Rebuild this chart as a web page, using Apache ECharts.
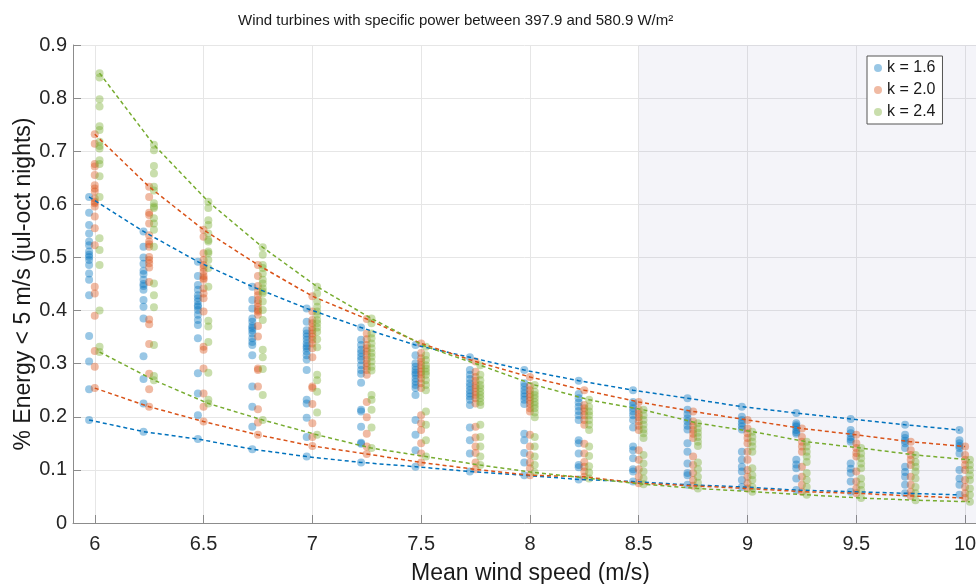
<!DOCTYPE html>
<html>
<head>
<meta charset="utf-8">
<title>Energy below 5 m/s vs mean wind speed</title>
<script src="https://cdn.jsdelivr.net/npm/echarts@6.0.0/dist/echarts.min.js"></script>
<style>
  html, body { margin: 0; padding: 0; background: #fff; }
  #main { width: 976px; height: 584px; }
</style>
</head>
<body>
<div id="main"></div>
<script>
// mean wind speed columns (m/s)
var speeds = [6, 6.25, 6.5, 6.75, 7, 7.25, 7.5, 7.75, 8, 8.25, 8.5, 8.75, 9, 9.25, 9.5, 9.75, 10];
var kNames = ['k = 1.6', 'k = 2.0', 'k = 2.4'];

// share of energy below 5 m/s, one list of turbines per wind speed
var energyK16 = [
  [0.614,0.584,0.561,0.545,0.530,0.523,0.511,0.505,0.501,0.495,0.486,0.470,0.458,0.429,0.352,0.304,0.252,0.194],
  [0.549,0.520,0.500,0.488,0.475,0.469,0.458,0.450,0.446,0.439,0.420,0.407,0.385,0.314,0.271,0.225,0.172],
  [0.492,0.465,0.448,0.439,0.429,0.423,0.417,0.410,0.407,0.401,0.392,0.382,0.373,0.348,0.282,0.244,0.203,0.158],
  [0.445,0.420,0.404,0.385,0.379,0.371,0.367,0.363,0.357,0.348,0.341,0.335,0.316,0.257,0.219,0.181,0.139],
  [0.404,0.379,0.363,0.357,0.351,0.345,0.338,0.333,0.329,0.323,0.316,0.308,0.288,0.232,0.225,0.198,0.162,0.125],
  [0.368,0.345,0.335,0.326,0.320,0.313,0.307,0.297,0.288,0.281,0.264,0.213,0.210,0.181,0.151,0.149,0.114],
  [0.335,0.316,0.301,0.294,0.288,0.283,0.279,0.272,0.266,0.260,0.254,0.241,0.194,0.166,0.137,0.106],
  [0.312,0.288,0.279,0.271,0.263,0.257,0.250,0.244,0.238,0.232,0.222,0.180,0.156,0.131,0.097],
  [0.288,0.263,0.257,0.250,0.244,0.238,0.232,0.224,0.168,0.156,0.132,0.114,0.090],
  [0.268,0.243,0.235,0.227,0.219,0.211,0.203,0.194,0.156,0.150,0.131,0.109,0.105,0.082],
  [0.250,0.228,0.222,0.216,0.210,0.203,0.194,0.180,0.144,0.137,0.122,0.101,0.097,0.078],
  [0.235,0.213,0.205,0.197,0.191,0.183,0.176,0.150,0.134,0.112,0.094,0.090,0.072],
  [0.219,0.200,0.194,0.188,0.182,0.176,0.134,0.119,0.106,0.097,0.081,0.068],
  [0.207,0.188,0.184,0.181,0.175,0.171,0.168,0.119,0.110,0.103,0.084,0.062],
  [0.196,0.175,0.169,0.162,0.157,0.153,0.112,0.102,0.094,0.078,0.059],
  [0.185,0.166,0.160,0.155,0.150,0.141,0.106,0.096,0.087,0.072,0.056],
  [0.175,0.156,0.150,0.145,0.141,0.131,0.100,0.084,0.072,0.053]
];
var energyK20 = [
  [0.732,0.714,0.676,0.671,0.655,0.636,0.630,0.624,0.611,0.605,0.602,0.596,0.577,0.555,0.523,0.445,0.432,0.390,0.324,0.294,0.254],
  [0.633,0.614,0.584,0.580,0.564,0.542,0.530,0.525,0.520,0.501,0.495,0.489,0.481,0.454,0.383,0.374,0.337,0.281,0.252,0.219],
  [0.552,0.539,0.508,0.495,0.486,0.480,0.473,0.465,0.461,0.458,0.442,0.432,0.423,0.398,0.332,0.326,0.291,0.244,0.219,0.191],
  [0.486,0.465,0.446,0.436,0.429,0.420,0.414,0.407,0.401,0.398,0.392,0.371,0.351,0.291,0.288,0.257,0.214,0.189,0.166],
  [0.427,0.398,0.382,0.376,0.368,0.363,0.357,0.351,0.345,0.338,0.329,0.312,0.257,0.254,0.224,0.188,0.162,0.145],
  [0.384,0.357,0.346,0.335,0.329,0.323,0.316,0.308,0.301,0.294,0.288,0.279,0.228,0.199,0.168,0.144,0.130],
  [0.338,0.320,0.310,0.304,0.297,0.291,0.285,0.279,0.272,0.263,0.254,0.203,0.188,0.175,0.150,0.131,0.114],
  [0.304,0.285,0.275,0.268,0.260,0.254,0.247,0.241,0.235,0.225,0.181,0.161,0.144,0.132,0.114,0.101],
  [0.275,0.258,0.250,0.243,0.237,0.230,0.224,0.216,0.210,0.166,0.144,0.128,0.114,0.103,0.090],
  [0.250,0.222,0.216,0.210,0.203,0.194,0.185,0.149,0.131,0.115,0.106,0.097,0.087],
  [0.228,0.213,0.205,0.199,0.191,0.183,0.175,0.137,0.119,0.101,0.087,0.075],
  [0.210,0.191,0.183,0.175,0.168,0.160,0.125,0.109,0.094,0.081,0.070],
  [0.194,0.178,0.169,0.160,0.150,0.134,0.119,0.100,0.087,0.075,0.065],
  [0.178,0.162,0.153,0.144,0.134,0.106,0.087,0.072,0.059],
  [0.166,0.150,0.141,0.132,0.125,0.097,0.078,0.065,0.056],
  [0.153,0.137,0.128,0.119,0.109,0.087,0.072,0.059,0.051],
  [0.144,0.128,0.119,0.109,0.100,0.081,0.068,0.056,0.047]
];
var energyK24 = [
  [0.847,0.839,0.798,0.784,0.747,0.740,0.718,0.710,0.705,0.683,0.676,0.653,0.614,0.536,0.514,0.486,0.400,0.332,0.322],
  [0.712,0.702,0.672,0.658,0.633,0.626,0.602,0.596,0.593,0.574,0.564,0.552,0.520,0.451,0.429,0.406,0.335,0.277,0.269],
  [0.605,0.593,0.570,0.561,0.545,0.533,0.530,0.511,0.508,0.495,0.480,0.445,0.381,0.370,0.341,0.283,0.232,0.225],
  [0.519,0.505,0.486,0.480,0.470,0.458,0.451,0.442,0.436,0.432,0.417,0.401,0.382,0.326,0.312,0.290,0.241,0.194],
  [0.445,0.432,0.417,0.407,0.398,0.392,0.382,0.376,0.368,0.360,0.346,0.331,0.279,0.269,0.247,0.208,0.166],
  [0.385,0.376,0.357,0.348,0.338,0.329,0.320,0.313,0.304,0.294,0.287,0.241,0.232,0.213,0.180,0.141],
  [0.332,0.316,0.307,0.297,0.291,0.285,0.279,0.269,0.260,0.250,0.210,0.185,0.156,0.125],
  [0.297,0.279,0.269,0.260,0.254,0.247,0.241,0.235,0.228,0.222,0.185,0.162,0.144,0.125,0.109],
  [0.260,0.247,0.241,0.235,0.228,0.222,0.216,0.208,0.199,0.162,0.144,0.125,0.109,0.095],
  [0.232,0.219,0.210,0.203,0.194,0.185,0.175,0.144,0.126,0.107,0.095,0.084],
  [0.213,0.203,0.194,0.185,0.176,0.169,0.160,0.128,0.112,0.097,0.084,0.073],
  [0.188,0.178,0.170,0.162,0.153,0.145,0.114,0.101,0.087,0.076,0.065],
  [0.172,0.162,0.153,0.144,0.134,0.103,0.090,0.081,0.068,0.059],
  [0.153,0.144,0.134,0.125,0.115,0.094,0.081,0.068,0.053],
  [0.141,0.131,0.122,0.112,0.103,0.084,0.072,0.062,0.047],
  [0.128,0.115,0.106,0.097,0.084,0.068,0.056,0.043],
  [0.119,0.109,0.100,0.090,0.081,0.065,0.053,0.040]
];

// dashed envelope curves (top and bottom of each column)
var upperK16 = [0.614,0.549,0.492,0.445,0.404,0.368,0.335,0.312,0.288,0.268,0.250,0.235,0.219,0.207,0.196,0.185,0.175];
var lowerK16 = [0.194,0.172,0.158,0.139,0.125,0.114,0.106,0.097,0.090,0.082,0.078,0.072,0.068,0.062,0.059,0.056,0.053];
var upperK20 = [0.732,0.633,0.552,0.486,0.427,0.384,0.338,0.304,0.275,0.250,0.228,0.210,0.194,0.178,0.166,0.153,0.144];
var lowerK20 = [0.254,0.219,0.191,0.166,0.145,0.130,0.114,0.101,0.090,0.087,0.075,0.070,0.065,0.059,0.056,0.051,0.047];
var upperK24 = [0.847,0.712,0.605,0.519,0.445,0.385,0.332,0.297,0.260,0.232,0.213,0.188,0.172,0.153,0.141,0.128,0.119];
var lowerK24 = [0.322,0.269,0.225,0.194,0.166,0.141,0.125,0.109,0.095,0.084,0.073,0.065,0.059,0.053,0.047,0.043,0.040];

var shadeFrom = 8.5;

var colors = ['#0072BD', '#D95319', '#77AC30'];
var offsets = [-0.026, 0, 0.022];   // small side shift so the three k columns don't overlap
var xMin = 5.9, xMax = 10.05;
var font = 'Liberation Sans, Arial, Helvetica, sans-serif';

function scatterData(cols, dx) {
  var out = [];
  cols.forEach(function (col, i) {
    col.forEach(function (v) { out.push([speeds[i] + dx, v]); });
  });
  return out;
}
function curveData(vals, dx) {
  return vals.map(function (v, i) { return [speeds[i] + dx, v]; });
}

var allCols = [energyK16, energyK20, energyK24];
var curves = [[upperK16, lowerK16], [upperK20, lowerK20], [upperK24, lowerK24]];

var series = [];
// shaded band on the right
series.push({
  type: 'line',
  name: 'shade',
  data: [],
  silent: true,
  markArea: {
    silent: true,
    itemStyle: { color: 'rgba(75,75,157,0.06)' },
    data: [[{ xAxis: shadeFrom }, { xAxis: xMax }]]
  }
});
allCols.forEach(function (cols, s) {
  series.push({
    type: 'scatter',
    name: kNames[s],
    symbol: 'circle',
    symbolSize: 8,
    z: 2,
    itemStyle: { color: colors[s], opacity: 0.4 },
    data: scatterData(cols, offsets[s])
  });
});
curves.forEach(function (pair, s) {
  pair.forEach(function (vals, j) {
    series.push({
      type: 'line',
      name: kNames[s] + (j ? ' low' : ' high'),
      showSymbol: false,
      symbol: 'none',
      z: 3,
      lineStyle: { color: colors[s], width: 1.5, type: [4, 3] },
      data: curveData(vals, offsets[s])
    });
  });
});

var chart = echarts.init(document.getElementById('main'), null, { renderer: 'canvas' });
chart.setOption({
  animation: false,
  textStyle: { fontFamily: font },
  title: {
    text: 'Wind turbines with specific power between 397.9 and 580.9 W/m²',
    left: 238,
    top: 13,
    padding: 0,
    textStyle: { fontSize: 15, fontWeight: 'normal', color: '#1a1a1a', fontFamily: font }
  },
  legend: {
    data: kNames,
    orient: 'vertical',
    left: 867,
    top: 56,
    padding: [1, 7, 1, 7],
    itemWidth: 8,
    itemHeight: 8,
    itemGap: 0,
    icon: 'circle',
    backgroundColor: '#fff',
    borderColor: '#555',
    borderWidth: 1,
    borderRadius: 0,
    textStyle: { fontSize: 16, lineHeight: 22, color: '#1a1a1a', fontFamily: font }
  },
  grid: { left: 73, right: 0, top: 45, bottom: 61, containLabel: false, outerBoundsMode: 'none' },
  xAxis: {
    type: 'value',
    min: xMin,
    max: xMax,
    minInterval: 0.5,
    maxInterval: 0.5,
    name: 'Mean wind speed (m/s)',
    nameLocation: 'middle',
    nameGap: 39,
    nameMoveOverlap: false,
    nameTextStyle: { fontSize: 23, color: '#1a1a1a', padding: [0, 0, 0, 12] },
    axisLine: { lineStyle: { color: '#8c8c8c', width: 1 } },
    axisTick: { inside: true, length: 8, lineStyle: { color: '#8c8c8c' } },
    axisLabel: { fontSize: 20, color: '#262626', margin: 11, showMinLabel: false, showMaxLabel: false },
    splitLine: { show: true, lineStyle: { color: '#e6e6e6', width: 1 } }
  },
  yAxis: {
    type: 'value',
    min: 0,
    max: 0.9,
    interval: 0.1,
    name: '% Energy < 5 m/s (jul-oct nights)',
    nameLocation: 'middle',
    nameGap: 38,
    nameMoveOverlap: false,
    nameTextStyle: { fontSize: 23, color: '#1a1a1a' },
    axisLine: { show: true, lineStyle: { color: '#8c8c8c', width: 1 } },
    axisTick: { show: true, inside: true, length: 8, lineStyle: { color: '#8c8c8c' } },
    axisLabel: { fontSize: 20, color: '#262626', margin: 6 },
    splitLine: { show: true, lineStyle: { color: '#e6e6e6', width: 1 } }
  },
  series: series
});
</script>
</body>
</html>
